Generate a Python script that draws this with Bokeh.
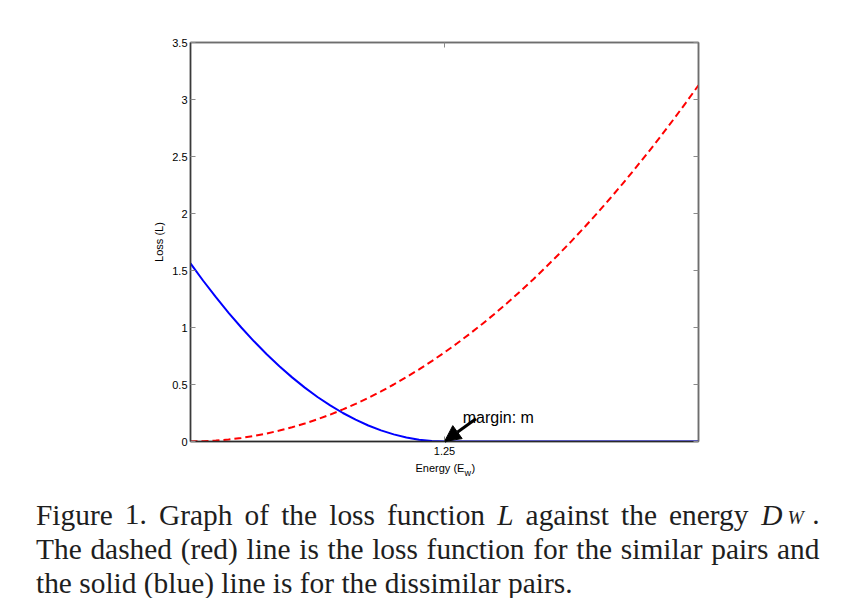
from bokeh.plotting import figure
from bokeh.models import Range1d, LinearAxis, FixedTicker, Label, Arrow, NormalHead
from bokeh.layouts import column
from bokeh.core.properties import value
from bokeh.embed import file_html
from bokeh.resources import INLINE

# ---------------- data ----------------
energy = [0.0, 0.0625, 0.125, 0.1875, 0.25, 0.3125, 0.375, 0.4375, 0.5, 0.5625,
          0.625, 0.6875, 0.75, 0.8125, 0.875, 0.9375, 1.0, 1.0625, 1.125, 1.1875,
          1.25, 1.3125, 1.375, 1.4375, 1.5, 1.5625, 1.625, 1.6875, 1.75, 1.8125,
          1.875, 1.9375, 2.0, 2.0625, 2.125, 2.1875, 2.25, 2.3125, 2.375, 2.4375, 2.5]
loss_similar = [0.0, 0.002, 0.0078, 0.0176, 0.0313, 0.0488, 0.0703, 0.0957, 0.125, 0.1582,
                0.1953, 0.2363, 0.2813, 0.3301, 0.3828, 0.4395, 0.5, 0.5645, 0.6328, 0.7051,
                0.7813, 0.8613, 0.9453, 1.0332, 1.125, 1.2207, 1.3203, 1.4238, 1.5313, 1.6426,
                1.7578, 1.877, 2.0, 2.127, 2.2578, 2.3926, 2.5313, 2.6738, 2.8203, 2.9707, 3.125]
loss_dissimilar = [1.5625, 1.4102, 1.2656, 1.1289, 1.0, 0.8789, 0.7656, 0.6602, 0.5625, 0.4727,
                   0.3906, 0.3164, 0.25, 0.1914, 0.1406, 0.0977, 0.0625, 0.0352, 0.0156, 0.0039,
                   0.0, 0.0, 0.0, 0.0, 0.0, 0.0, 0.0, 0.0, 0.0, 0.0,
                   0.0, 0.0, 0.0, 0.0, 0.0, 0.0, 0.0, 0.0, 0.0, 0.0, 0.0]
y_ticks = [0, 0.5, 1, 1.5, 2, 2.5, 3, 3.5]
y_tick_labels = ["0", "0.5", "1", "1.5", "2", "2.5", "3", "3.5"]
x_ticks = [1.25]
x_tick_labels = ["1.25"]
x_min, x_max = 0.0, 2.5
y_min, y_max = 0.0, 3.5
margin_m = 1.25
margin_text = "margin: m"
arrow_tail = (1.405, 0.20)
margin_text_pos = (1.34, 0.21)
y_label = "Loss (L)"
x_label_parts = ["Energy (E", "w", ")"]

caption_line1 = ["Figure", "1.", "Graph", "of", "the", "loss", "function", "L", "against",
                 "the", "energy"]
caption_line1_italic = [False] * 7 + [True] + [False] * 3
caption_math_end = ["D", "W", "."]
caption_line2 = ["The", "dashed", "(red)", "line", "is", "the", "loss", "function", "for",
                 "the", "similar", "pairs", "and"]
caption_line3 = ["the", "solid", "(blue)", "line", "is", "for", "the", "dissimilar", "pairs."]

# ---------------- layout ----------------
W = 847
H_TOP = 460
H_CAP = 138
FR_L, FR_R, FR_T, FR_B = 190, 698, 42, 441
CAP_L, CAP_R = 35.5, 819.0
FS = 29.4          # caption font size (px)
SUB_FS = 19.5
base1, base2, base3 = 514, 548, 582
xlabel_x = [415, 464, 471]
xlabel_base = [467, 472, 467]

ARIAL = "Liberation Sans"
SERIF = "Liberation Serif"

# Times / Liberation Serif advance widths (per 1000 em) used to justify the caption
ADV = {" ": 250, ".": 250, "(": 333, ")": 333, "1": 500,
       "a": 444, "b": 500, "c": 444, "d": 500, "e": 444, "f": 333, "g": 500, "h": 500,
       "i": 278, "l": 278, "m": 778, "n": 500, "o": 500, "p": 500, "r": 333, "s": 389,
       "t": 278, "u": 500, "y": 500, "F": 556, "G": 722, "T": 611}
ADV_IT = {"L": 556, "D": 722, "W": 833}


def word_w(word, italic=False):
    table = ADV_IT if italic else ADV
    return sum(table.get(ch, 500) for ch in word) / 1000.0 * FS


def justify(widths, left, right):
    gap = (right - left - sum(widths)) / (len(widths) - 1)
    xs, x = [], left
    for wd in widths:
        xs.append(x)
        x += wd + gap
    return xs


p = figure(width=W, height=H_TOP, output_backend="svg", toolbar_location=None, title=None,
           x_range=Range1d(x_min, x_max), y_range=Range1d(y_min, y_max),
           min_border_left=FR_L, min_border_right=W - FR_R,
           min_border_top=FR_T, min_border_bottom=H_TOP - FR_B)
p.frame_align = False
p.grid.visible = False
p.background_fill_color = "white"
p.border_fill_color = "white"
p.outline_line_color = "#6e6e6e"
p.outline_line_width = 1.5

ya = p.yaxis[0]
ya.ticker = FixedTicker(ticks=y_ticks)
ya.major_label_overrides = {t: s for t, s in zip(y_ticks, y_tick_labels)}
ya.major_tick_in = 5
ya.major_tick_out = 0
ya.minor_tick_line_color = None
ya.major_tick_line_color = "#8a8a8a"
ya.axis_line_color = "#3a3a3a"
ya.axis_line_width = 1.5
ya.major_label_text_font = ARIAL
ya.major_label_text_font_size = "11px"
ya.major_label_text_color = "black"
ya.major_label_standoff = 3
ya.axis_label = y_label
ya.axis_label_text_font = ARIAL
ya.axis_label_text_font_size = "11px"
ya.axis_label_text_font_style = "normal"
ya.axis_label_text_color = "black"
ya.axis_label_standoff = 4

xa = p.xaxis[0]
xa.ticker = FixedTicker(ticks=x_ticks)
xa.major_label_overrides = {t: s for t, s in zip(x_ticks, x_tick_labels)}
xa.major_tick_in = 5
xa.major_tick_out = 0
xa.minor_tick_line_color = None
xa.major_tick_line_color = "#8a8a8a"
xa.axis_line_color = "#2a2a2a"
xa.axis_line_width = 1.5
xa.major_label_text_font = ARIAL
xa.major_label_text_font_size = "11px"
xa.major_label_text_color = "black"
xa.major_label_standoff = 5

ra = LinearAxis(ticker=FixedTicker(ticks=y_ticks), major_tick_in=5, major_tick_out=0,
                minor_tick_line_color=None, major_tick_line_color="#8a8a8a",
                axis_line_color="#6e6e6e", axis_line_width=1.5,
                major_label_text_color=None, major_label_text_font_size="1px")
p.add_layout(ra, "right")
ta = LinearAxis(ticker=FixedTicker(ticks=x_ticks), major_tick_in=5, major_tick_out=0,
                minor_tick_line_color=None, major_tick_line_color="#8a8a8a",
                axis_line_color="#6e6e6e", axis_line_width=1.5,
                major_label_text_color=None, major_label_text_font_size="1px")
p.add_layout(ta, "above")

p.line(energy, loss_similar, line_color="#ff0000", line_width=2, line_dash="7 4")
p.line(energy, loss_dissimilar, line_color="#0000ff", line_width=2)

p.add_layout(Arrow(end=NormalHead(size=16, fill_color="black", line_color="black"),
                   x_start=arrow_tail[0], y_start=arrow_tail[1], x_end=margin_m, y_end=0.0,
                   line_color="black", line_width=3))
p.add_layout(Label(x=margin_text_pos[0], y=margin_text_pos[1], text=margin_text,
                   text_font=ARIAL, text_font_size="16px", text_color="black",
                   text_baseline="alphabetic"))

# ---------------- caption area (picture pixel coordinates) ----------------
c = figure(width=W, height=H_CAP, output_backend="svg", toolbar_location=None, title=None,
           x_range=Range1d(0, W), y_range=Range1d(H_TOP + H_CAP, H_TOP),
           x_axis_type=None, y_axis_type=None,
           min_border_left=0, min_border_right=0, min_border_top=0, min_border_bottom=0)
c.frame_align = False
c.grid.visible = False
c.outline_line_color = None
c.background_fill_color = "white"
c.border_fill_color = "white"

c.text(x=[xlabel_x[0], xlabel_x[2]], y=[xlabel_base[0], xlabel_base[2]],
       text=[x_label_parts[0], x_label_parts[2]], text_font=value(ARIAL),
       text_font_size=value("11px"), text_color="black", text_baseline="alphabetic")
c.text(x=[xlabel_x[1]], y=[xlabel_base[1]], text=[x_label_parts[1]], text_font=value(ARIAL),
       text_font_size=value("9px"), text_color="black", text_baseline="alphabetic")

CAP = "#1e1e1e"
D_w = word_w("D", True)
W_off = D_w + 5.0
dot_off = 51.0
group_w = dot_off + word_w(".")
widths1 = [word_w(t, it) for t, it in zip(caption_line1, caption_line1_italic)] + [group_w]
xs1 = justify(widths1, CAP_L, CAP_R)
n_x, n_y, n_t = [], [], []
i_x, i_y, i_t = [], [], []
for t, it, x in zip(caption_line1, caption_line1_italic, xs1):
    if it:
        i_x.append(x); i_y.append(base1); i_t.append(t)
    else:
        n_x.append(x); n_y.append(base1); n_t.append(t)
gx = xs1[-1]
i_x.append(gx); i_y.append(base1); i_t.append(caption_math_end[0])
n_x.append(gx + dot_off); n_y.append(base1); n_t.append(caption_math_end[2])

xs2 = justify([word_w(t) for t in caption_line2], CAP_L, CAP_R)
for t, x in zip(caption_line2, xs2):
    n_x.append(x); n_y.append(base2); n_t.append(t)

x = CAP_L
for t in caption_line3:
    n_x.append(x); n_y.append(base3); n_t.append(t)
    x += word_w(t) + word_w(" ")

c.text(x=n_x, y=n_y, text=n_t, text_font=value(SERIF), text_font_size=value(f"{FS}px"),
       text_color=CAP, text_baseline="alphabetic")
c.text(x=i_x, y=i_y, text=i_t, text_font=value(SERIF), text_font_size=value(f"{FS}px"),
       text_font_style="italic", text_color=CAP, text_baseline="alphabetic")
c.text(x=[gx + W_off], y=[base1 + 3], text=[caption_math_end[1]], text_font=value(SERIF),
       text_font_size=value(f"{SUB_FS}px"), text_font_style="italic", text_color=CAP,
       text_baseline="alphabetic")

layout = column(p, c, spacing=0)
open("out.html", "w").write(file_html(layout, INLINE))
